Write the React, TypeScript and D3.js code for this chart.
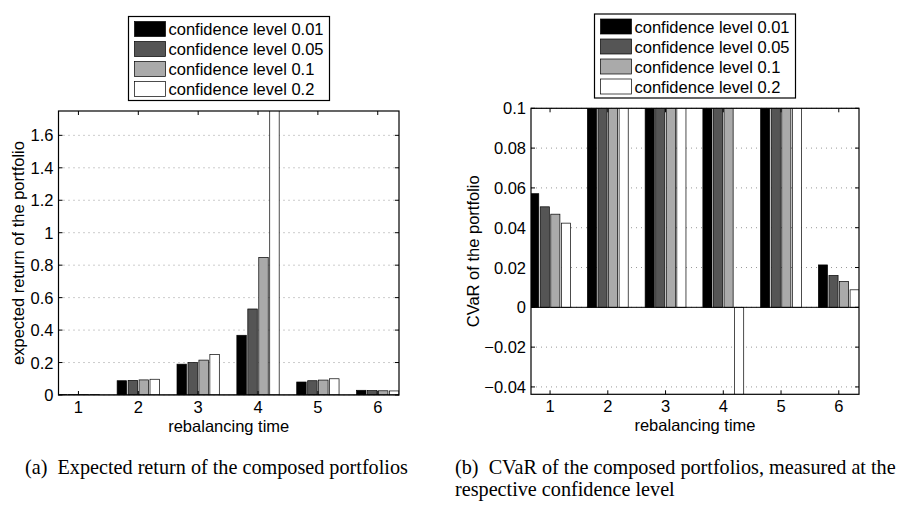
import React from "react";
import * as d3 from "d3";

const categories = [1, 2, 3, 4, 5, 6];
const seriesNames = [
  "confidence level 0.01",
  "confidence level 0.05",
  "confidence level 0.1",
  "confidence level 0.2",
];
const seriesColors = ["#000000", "#555555", "#aaaaaa", "#ffffff"];

// (a) expected return
const retLevel001 = [0.002, 0.088, 0.19, 0.368, 0.08, 0.029];
const retLevel005 = [0.002, 0.09, 0.2, 0.53, 0.088, 0.027];
const retLevel01 = [0.002, 0.093, 0.215, 0.848, 0.092, 0.026];
const retLevel02 = [0.002, 0.097, 0.25, 2.2, 0.1, 0.025];
const retTicks = [0, 0.2, 0.4, 0.6, 0.8, 1, 1.2, 1.4, 1.6];

// (b) CVaR
const cvarLevel001 = [0.0571, 0.14, 0.14, 0.14, 0.14, 0.0213];
const cvarLevel005 = [0.0505, 0.14, 0.14, 0.14, 0.14, 0.016];
const cvarLevel01 = [0.0468, 0.14, 0.14, 0.14, 0.14, 0.013];
const cvarLevel02 = [0.0423, 0.14, 0.14, -0.09, 0.14, 0.0088];
const cvarTicks = [-0.04, -0.02, 0, 0.02, 0.04, 0.06, 0.08, 0.1];

const FONT = "'Liberation Sans', Arial, Helvetica, sans-serif";
const SERIF = "'Liberation Serif', 'Times New Roman', Times, serif";
const FS = 16.5;

type PanelProps = {
  id: string;
  series: number[][];
  ticks: number[];
  yDomain: [number, number];
  xDomain: [number, number];
  left: number;
  right: number;
  top: number;
  bottom: number;
  yLabel: string;
  yLabelX: number;
  legendX: number;
  legendY: number;
  fmt: (v: number) => string;
};

function Panel(p: PanelProps) {
  const x = d3.scaleLinear().domain(p.xDomain).range([p.left, p.right]);
  const y = d3.scaleLinear().domain(p.yDomain).range([p.bottom, p.top]);
  const slot = 0.183;
  const bw = 0.158;
  const y0 = y(0);
  const clipId = "clip-" + p.id;
  const legendW = 201;
  const legendH = 84;
  return (
    <g>
      <defs>
        <clipPath id={clipId}>
          <rect x={p.left} y={p.top} width={p.right - p.left} height={p.bottom - p.top} />
        </clipPath>
      </defs>
      <rect x={p.left} y={p.top} width={p.right - p.left} height={p.bottom - p.top} fill="#fff" />
      {p.ticks.map((t) => (
        <line
          key={"g" + t}
          x1={p.left}
          x2={p.right}
          y1={y(t)}
          y2={y(t)}
          stroke="#999"
          strokeWidth={1}
          strokeDasharray="1,4"
        />
      ))}
      <g clipPath={`url(#${clipId})`}>
        {p.series.map((vals, si) =>
          vals.map((v, ci) => {
            const cx = categories[ci] + (si - 1.5) * slot;
            const x0 = x(cx - bw / 2);
            const x1 = x(cx + bw / 2);
            const yv = y(v);
            return (
              <rect
                key={si + "-" + ci}
                x={x0}
                y={Math.min(yv, y0)}
                width={x1 - x0}
                height={Math.abs(yv - y0)}
                fill={seriesColors[si]}
                stroke="#000"
                strokeWidth={0.7}
              />
            );
          })
        )}
        <line x1={p.left} x2={p.right} y1={y0} y2={y0} stroke="#000" strokeWidth={1} />
      </g>
      {categories.map((c) => (
        <g key={"xt" + c}>
          <line x1={x(c)} x2={x(c)} y1={p.bottom} y2={p.bottom - 4} stroke="#000" />
          <line x1={x(c)} x2={x(c)} y1={p.top} y2={p.top + 4} stroke="#000" />
          <text
            x={x(c)}
            y={p.bottom + 18}
            textAnchor="middle"
            fontFamily={FONT}
            fontSize={FS}
            fill="#000"
          >
            {c}
          </text>
        </g>
      ))}
      {p.ticks.map((t) => (
        <g key={"yt" + t}>
          <line x1={p.left} x2={p.left + 4} y1={y(t)} y2={y(t)} stroke="#000" />
          <line x1={p.right} x2={p.right - 4} y1={y(t)} y2={y(t)} stroke="#000" />
          <text
            x={p.left - 5}
            y={y(t) + 6}
            textAnchor="end"
            fontFamily={FONT}
            fontSize={FS}
            fill="#000"
          >
            {p.fmt(t)}
          </text>
        </g>
      ))}
      <rect
        x={p.left}
        y={p.top}
        width={p.right - p.left}
        height={p.bottom - p.top}
        fill="none"
        stroke="#000"
        strokeWidth={1.2}
      />
      <text
        x={(p.left + p.right) / 2}
        y={p.bottom + 36.5}
        textAnchor="middle"
        fontFamily={FONT}
        fontSize={FS}
        fill="#000"
      >
        rebalancing time
      </text>
      <text
        transform={`translate(${p.yLabelX},${(p.top + p.bottom) / 2}) rotate(-90)`}
        textAnchor="middle"
        fontFamily={FONT}
        fontSize={FS}
        fill="#000"
      >
        {p.yLabel}
      </text>
      <g transform={`translate(${p.legendX},${p.legendY})`}>
        <rect x={0} y={0} width={legendW} height={legendH} fill="#fff" stroke="#000" strokeWidth={1.2} />
        {seriesNames.map((name, i) => (
          <g key={name}>
            <rect
              x={6}
              y={5 + 20 * i}
              width={31}
              height={15}
              fill={seriesColors[i]}
              stroke="#000"
              strokeWidth={0.7}
            />
            <text x={40} y={18.5 + 20 * i} fontFamily={FONT} fontSize={FS} fill="#000">
              {name}
            </text>
          </g>
        ))}
      </g>
    </g>
  );
}

const fmtRet = (v: number) => d3.format("~g")(v);
const fmtCvar = (v: number) => (v < 0 ? "\u2212" + d3.format("~g")(-v) : d3.format("~g")(v));

export default function App() {
  return (
    <div style={{ position: "absolute", left: 0, top: 0 }}>
      <svg width={910} height={505} style={{ display: "block", background: "#fff" }}>
        <rect width={910} height={505} fill="#fff" />
        <Panel
          id="a"
          series={[retLevel001, retLevel005, retLevel01, retLevel02]}
          ticks={retTicks}
          yDomain={[0, 1.75]}
          xDomain={[0.667, 6.355]}
          left={58.5}
          right={399}
          top={111}
          bottom={395}
          yLabel="expected return of the portfolio"
          yLabelX={24}
          legendX={128.5}
          legendY={16.5}
          fmt={fmtRet}
        />
        <Panel
          id="b"
          series={[cvarLevel001, cvarLevel005, cvarLevel01, cvarLevel02]}
          ticks={cvarTicks}
          yDomain={[-0.0437, 0.1]}
          xDomain={[0.67, 6.35]}
          left={531}
          right={859}
          top={108.3}
          bottom={394.3}
          yLabel="CVaR of the portfolio"
          yLabelX={479}
          legendX={594.5}
          legendY={14}
          fmt={fmtCvar}
        />
        <text x={25} y={473.5} fontFamily={SERIF} fontSize={20.2} fill="#000">
          {"(a)\u00a0\u00a0Expected return of the composed portfolios"}
        </text>
        <text x={455} y={473.5} fontFamily={SERIF} fontSize={20.2} fill="#000">
          {"(b)\u00a0\u00a0CVaR of the composed portfolios, measured at the"}
        </text>
        <text x={455} y={495.5} fontFamily={SERIF} fontSize={20.2} fill="#000">
          respective confidence level
        </text>
      </svg>
    </div>
  );
}
